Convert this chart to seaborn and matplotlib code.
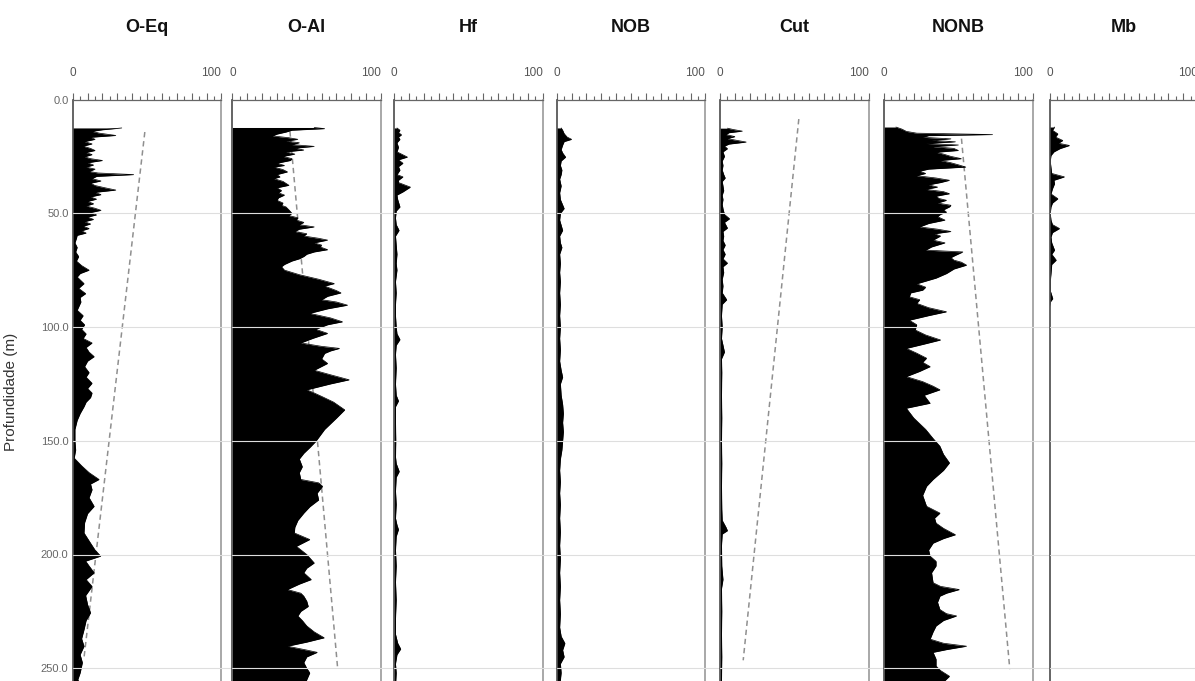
import matplotlib
matplotlib.use("Agg")
import matplotlib.pyplot as plt
from matplotlib.ticker import MultipleLocator
import seaborn as sns

# ---------------- data ----------------
panel_names = ["O-Eq", "O-Al", "Hf", "NOB", "Cut", "NONB", "Mb"]

oeq_depth = [12.5, 13.3, 14.0, 14.8, 15.8, 16.6, 17.5, 18.5, 19.5, 20.5, 21.5, 22.4, 23.3, 24.2, 25.2, 26.0,
             26.8, 27.8, 28.8, 29.7, 30.6, 31.6, 32.3, 33.0, 33.8, 34.8, 35.8, 36.8, 37.8, 38.7, 39.8, 40.8,
             41.8, 42.8, 43.8, 44.8, 45.8, 46.8, 47.8, 48.7, 49.7, 50.7, 51.7, 52.7, 53.7, 54.7, 55.7, 56.7,
             57.7, 58.7, 59.7, 61.0, 63.0, 65.0, 67.0, 69.0, 71.0, 73.0, 75.0, 76.5, 78.0, 80.9, 83.0, 85.3,
             87.0, 89.0, 92.6, 95.0, 97.0, 99.0, 101.0, 103.0, 105.0, 107.0, 109.0, 111.0, 113.0, 115.0, 117.4,
             120.0, 122.0, 124.7, 127.0, 129.0, 131.0, 133.0, 135.0, 138.0, 141.0, 145.0, 150.0, 154.0, 157.6,
             161.0, 164.0, 167.0, 169.0, 171.5, 175.0, 178.8, 182.0, 186.0, 190.5, 195.0, 198.0, 200.7, 202.9,
             205.0, 208.0, 211.0, 214.0, 218.0, 222.0, 225.6, 229.0, 233.0, 237.0, 240.3, 244.0, 247.5, 252.0,
             255.0, 258.0, 262.0, 265.0]
oeq_value = [33, 20, 13, 18, 29, 12, 15, 8, 13, 7, 12, 15, 9, 13, 8, 12,
             20, 10, 14, 9, 15, 11, 17, 41, 16, 13, 19, 12, 15, 21, 29, 15,
             19, 12, 16, 10, 14, 9, 15, 19, 12, 16, 10, 14, 8, 12, 7, 11,
             6, 9, 3, 2.5, 1.5, 3, 2, 4, 2.5, 6, 11, 5, 3, 7.6, 4, 8.7,
             5, 5.5, 3, 7, 5, 8, 6, 9, 7, 13, 9, 11, 14.4, 10, 8,
             11, 9, 13, 10, 13, 12, 9, 7.6, 5, 3, 1.5, 1.5, 2, 1,
             6, 11, 17.7, 12, 13, 11, 14.4, 10, 8, 7.6, 12, 15, 18.8, 8.7,
             11, 14.4, 9, 13, 8.7, 10, 12, 9, 7.6, 6, 7.6, 5, 6.5, 5,
             3.4, 6, 4, 5]

oal_depth = [12.3, 12.8, 13.5, 14.3, 15.2, 16.0, 16.8, 17.5, 18.3, 19.0, 19.8, 20.6, 21.4, 22.2, 23.0, 24.0,
             25.0, 26.0, 26.8, 28.0, 29.0, 29.7, 30.8, 31.8, 33.0, 34.0, 34.8, 36.0, 37.7, 38.8, 40.0, 41.0,
             42.0, 43.2, 44.3, 45.5, 46.5, 47.2, 48.5, 50.0, 51.0, 52.0, 53.0, 54.0, 55.0, 56.0, 57.0, 58.0,
             59.0, 60.0, 61.0, 61.8, 63.0, 64.0, 64.8, 66.0, 67.0, 68.0, 69.0, 70.0, 71.0, 72.5, 73.5, 75.0,
             77.0, 79.0, 80.9, 82.0, 83.0, 84.0, 85.0, 86.5, 88.0, 89.0, 90.4, 92.0, 94.0, 96.0, 97.7, 99.0,
             101.0, 102.8, 105.0, 107.0, 108.5, 109.4, 110.5, 111.6, 114.0, 116.0, 118.0, 119.0, 121.0, 123.2,
             125.0, 127.6, 129.0, 130.5, 133.0, 136.4, 140.0, 145.0, 150.3, 153.0, 155.5, 158.0, 161.4, 164.0,
             167.0, 168.5, 170.0, 173.0, 176.0, 179.0, 181.8, 185.0, 188.0, 190.5, 193.4, 196.4, 200.0, 203.7,
             206.0, 208.0, 211.0, 213.0, 215.4, 217.0, 218.3, 220.5, 222.8, 225.0, 227.0, 229.0, 231.4, 234.0,
             236.6, 238.5, 240.3, 242.0, 243.0, 245.0, 247.5, 250.0, 252.0, 255.0, 258.0, 262.0, 265.0]
oal_value = [55, 62, 40, 36, 30, 27, 38, 44, 36, 45, 40, 55, 42, 48, 36, 42,
             34, 40, 39, 30, 35, 28, 34, 37, 30, 32, 28, 34, 38, 30, 33, 31,
             35, 31, 30, 34, 33, 36, 38, 40, 38, 44, 43, 48, 45, 55, 45, 42,
             50, 48, 58, 64, 55, 60, 59, 64, 55, 50, 48, 45, 40, 35, 33, 35,
             45, 58, 68.5, 62, 66, 70, 73, 64, 60, 70, 77.4, 64, 52, 66, 74, 64,
             56, 64, 54, 46, 60, 72, 66, 62, 60, 64, 58, 55, 66, 78.5,
             66, 50, 55, 60, 68, 75.5, 70, 62, 56, 52, 48, 45, 47, 45,
             46, 58, 60.6, 57, 58, 52, 48, 44, 42, 41.6, 52, 43, 50, 55,
             50, 48, 53, 45, 37, 46, 48, 50, 51, 46, 44, 47, 50, 55,
             61.7, 50, 37, 50, 57, 50, 48, 50, 52, 50, 48, 50, 47]

hf_depth = [12.5, 13.5, 14.5, 15.5, 16.5, 17.5, 19.0, 21.0, 23.0, 25.3, 26.5, 28.0, 29.5, 31.0, 33.0, 34.0,
            35.5, 36.5, 38.5, 40.6, 42.0, 44.0, 47.2, 49.0, 52.0, 55.0, 57.5, 60.0, 64.0, 68.0, 72.0, 75.0,
            80.0, 85.0, 90.0, 95.0, 100.0, 103.0, 105.5, 108.0, 112.0, 118.0, 125.0, 130.0, 132.5, 135.0,
            142.0, 150.0, 157.0, 160.0, 163.5, 166.0, 172.0, 178.0, 184.0, 187.0, 189.0, 192.0, 198.0, 205.0,
            212.0, 220.0, 228.0, 235.0, 239.0, 241.5, 244.0, 248.0, 252.0, 258.0, 265.0]
hf_value = [2, 4, 3, 5, 3, 4, 2, 3, 2, 9, 3, 6, 3, 4, 2, 6,
            3, 3, 11, 6, 2, 2.5, 4, 1.5, 1, 1.5, 3.4, 1, 1.5, 2, 1.5, 2,
            1, 1.5, 1, 1, 1.5, 2, 4, 1.5, 1, 1.5, 1, 1.5, 3, 1,
            1, 1.2, 1, 1.5, 3.5, 1.5, 1, 1.5, 1, 2, 3, 1.5, 1, 1.5,
            1, 1.5, 1, 1, 2.5, 4.5, 2, 1, 1.5, 1, 1.5]

nob_depth = [12.5, 13.5, 15.0, 16.5, 17.5, 18.5, 20.0, 22.0, 23.5, 25.3, 27.0, 29.0, 31.0, 33.0, 35.0, 38.0,
             41.0, 44.0, 47.9, 50.0, 53.0, 57.5, 60.0, 63.0, 65.0, 68.0, 72.0, 76.0, 80.0, 85.0, 90.0, 95.0,
             100.0, 105.0, 110.0, 115.0, 119.0, 122.0, 125.0, 130.0, 134.0, 138.0, 142.0, 146.0, 150.0, 154.0,
             158.0, 163.0, 168.0, 173.0, 178.0, 184.0, 190.0, 196.0, 202.0, 208.0, 214.0, 220.0, 226.0, 232.0,
             236.0, 239.0, 242.0, 245.0, 248.0, 252.0, 258.0, 265.0]
nob_value = [3, 4, 5, 7, 10, 5, 4, 3, 4, 6, 3, 2.5, 3.5, 3, 2, 3,
             2, 2.5, 5, 2.5, 2, 4, 2, 2.5, 3.5, 2, 2.5, 2, 2.5, 2, 2.5, 2,
             2.5, 2, 2.5, 2, 3, 4, 2.5, 3, 4, 4.5, 4, 4.5, 4, 3.5,
             2.5, 2, 2.5, 2, 2.5, 2, 2.5, 2, 2.5, 2, 2.5, 2, 2.5, 2,
             3, 5.5, 4, 5, 2.5, 3, 2, 2.5]

cut_depth = [12.6, 13.2, 13.9, 14.6, 15.4, 16.3, 17.2, 18.7, 19.6, 20.5, 21.6, 23.0, 25.0, 27.0, 29.0, 31.0,
             33.0, 34.5, 36.0, 38.0, 40.0, 42.0, 44.0, 46.0, 48.0, 50.5, 52.4, 54.0, 56.5, 58.0, 60.0, 62.0,
             64.0, 66.0, 68.0, 70.0, 71.9, 73.5, 76.0, 79.0, 82.0, 85.0, 88.0, 90.0, 95.0, 100.0, 105.0, 111.0,
             114.0, 120.0, 130.0, 140.0, 150.0, 160.0, 170.0, 180.0, 185.0, 188.0, 189.5, 191.0, 196.0, 205.0,
             211.0, 215.0, 225.0, 235.0, 245.0, 255.0, 265.0]
cut_value = [5, 9, 15, 6, 4, 10, 5, 17.6, 6, 3, 5, 2, 3, 1.5, 2, 1.5,
             2.5, 3.5, 1.5, 2, 2.5, 1.5, 2, 1.5, 2, 3, 6.4, 3, 5, 2, 2.5, 2,
             3.5, 2, 3.5, 2, 5, 2, 2.5, 1.5, 2, 1.5, 4.5, 1.5, 1, 1.5, 1, 3,
             1, 1.2, 1, 1.2, 1, 1.2, 1, 1.2, 1.5, 4, 5, 1.5, 1, 1.2,
             2, 1, 1.2, 1, 1.2, 1, 1]

nonb_depth = [12.1, 13.0, 14.0, 14.8, 15.4, 15.9, 16.6, 17.3, 17.9, 18.6, 19.3, 20.0, 20.7, 21.5, 22.4, 23.2,
              24.0, 25.0, 26.0, 26.8, 27.8, 28.7, 29.7, 30.6, 31.5, 32.5, 33.5, 34.5, 35.5, 36.5, 37.5, 38.5,
              39.5, 40.5, 41.4, 42.5, 43.5, 44.3, 45.5, 46.5, 47.2, 48.5, 49.5, 50.5, 51.5, 53.0, 54.5, 56.0,
              57.0, 58.0, 59.0, 60.0, 61.8, 63.0, 64.8, 66.2, 67.0, 68.5, 69.5, 70.6, 71.5, 72.8, 74.5, 76.5,
              78.5, 81.0, 82.5, 83.8, 85.0, 86.7, 88.0, 89.6, 91.5, 93.3, 95.0, 97.0, 99.0, 101.3, 103.5, 105.7,
              107.5, 109.4, 111.5, 113.7, 115.5, 117.4, 119.5, 121.8, 124.0, 126.0, 127.6, 130.0, 133.5, 135.7,
              140.0, 145.0, 149.0, 152.4, 156.0, 159.7, 163.0, 167.0, 170.0, 174.0, 178.8, 181.8, 184.0, 186.2,
              188.5, 191.3, 193.0, 195.0, 198.0, 200.7, 203.0, 205.0, 208.0, 212.4, 214.0, 215.4, 217.0, 218.3,
              221.0, 224.2, 226.0, 227.0, 229.0, 231.4, 234.0, 237.2, 239.0, 240.3, 241.8, 243.0, 246.0, 249.0,
              251.0, 253.5, 256.0, 260.0, 265.0]
nonb_value = [8, 12, 15, 22, 73, 30, 26, 45, 32, 48, 28, 50, 33, 47, 50, 35,
              40, 45, 52, 38, 45, 50, 55, 30, 24, 28, 22, 35, 44, 38, 30, 36,
              28, 40, 44, 35, 37, 42, 36, 45, 44, 40, 42, 38, 36, 41, 30, 24,
              36, 45, 34, 38, 33, 41, 32, 28, 53, 48, 45, 47, 52, 55.5, 47, 42,
              35, 22, 28, 26, 18, 17, 24, 22, 30, 42, 30, 17, 22, 21, 28, 38,
              27, 15, 22, 28.6, 26, 31, 24, 15, 26, 33, 37.6, 27, 31, 15,
              20, 28, 33, 37.6, 40, 44, 40, 33, 28.6, 26, 28.6, 37.6, 34, 35,
              40, 48, 40, 33, 30, 31, 35, 35, 32, 33, 38, 50.6, 42, 37.6,
              36, 37.6, 42, 48.8, 40, 35, 33, 31, 40, 55.5, 42, 33, 35, 35,
              38, 44, 40, 38, 36]

mb_depth = [12.1, 13.5, 15.1, 16.5, 18.0, 19.2, 20.2, 21.6, 23.0, 24.6, 27.0, 30.0, 32.5, 34.0, 35.5, 37.0,
            39.2, 41.5, 43.6, 45.5, 47.2, 50.0, 53.0, 55.0, 56.7, 58.5, 60.4, 63.0, 66.2, 68.0, 70.6, 72.5,
            76.5, 80.0, 84.0, 87.5, 89.0, 91.0, 265.0]
mb_value = [3.4, 2, 5.6, 4, 8.9, 6, 13.4, 7, 3, 1, 0.5, 1, 1.5, 10, 3, 3.4,
            2, 1, 5.6, 2, 1, 0.5, 1, 2, 6.7, 2, 1, 1.5, 3.4, 1.5, 4.5, 1.5,
            1, 0.5, 0.5, 2.2, 0.5, 0, 0]

# dashed trend lines (start/end depth and value) for the panels that have one
oeq_trend_depth = [14.3, 246.0]
oeq_trend_value = [48.5, 7.5]
oal_trend_depth = [14.0, 249.5]
oal_trend_value = [38.7, 70.7]
cut_trend_depth = [8.6, 246.5]
cut_trend_value = [53.0, 15.6]
nonb_trend_depth = [17.2, 250.4]
nonb_trend_value = [52.1, 84.6]

depth_ticks = [0, 50, 100, 150, 200, 250]
depth_tick_labels = ["0.0", "50.0", "100.0", "150.0", "200.0", "250.0"]
x_tick_labels = ["0", "100"]
y_label = "Profundidade (m)"

series = {
    "O-Eq": (oeq_depth, oeq_value, oeq_trend_depth, oeq_trend_value),
    "O-Al": (oal_depth, oal_value, oal_trend_depth, oal_trend_value),
    "Hf": (hf_depth, hf_value, None, None),
    "NOB": (nob_depth, nob_value, None, None),
    "Cut": (cut_depth, cut_value, cut_trend_depth, cut_trend_value),
    "NONB": (nonb_depth, nonb_value, nonb_trend_depth, nonb_trend_value),
    "Mb": (mb_depth, mb_value, None, None),
}

# ---------------- style / layout ----------------
sns.set_theme(style="white")
plt.rcParams["font.family"] = ["Liberation Sans", "DejaVu Sans"]

W, H = 1195, 681
fig = plt.figure(figsize=(W / 100, H / 100), dpi=100)
fig.patch.set_facecolor("white")

lefts_px = [72.7, 232.4, 394.0, 556.7, 720.0, 884.0, 1049.5]
width_px = 148.7
top_px = 99.5
px_per_m = 2.275
depth_max = 265.0
height_px = depth_max * px_per_m
bottom_px = top_px + height_px

for i, name in enumerate(panel_names):
    d, v, td, tv = series[name]
    ax = fig.add_axes([lefts_px[i] / W, (H - bottom_px) / H, width_px / W, height_px / H])
    ax.set_facecolor("white")

    ax.fill_betweenx(d, 0, v, color="black", lw=0, zorder=2)
    sns.lineplot(x=v, y=d, orient="y", sort=False, estimator=None, color="black",
                 lw=0.5, ax=ax, zorder=2.1)
    if td is not None:
        sns.lineplot(x=tv, y=td, orient="y", sort=False, estimator=None, color="#8f8f8f",
                     lw=1.1, linestyle=(0, (3.5, 2.5)), ax=ax, zorder=1.5)

    # gridlines drawn over the fill, extending into the gap to the next panel
    if i < len(panel_names) - 1:
        xmax = (lefts_px[i + 1] - lefts_px[i]) / width_px
    else:
        xmax = 1.0
    for dt in depth_ticks[1:]:
        ax.axhline(dt, xmin=0, xmax=xmax, color="#dedede", lw=0.8, zorder=3, clip_on=False)

    ax.set_xlim(0, 100)
    ax.set_ylim(depth_max, 0)
    ax.set_xlabel("")
    ax.set_ylabel("")

    ax.xaxis.tick_top()
    ax.xaxis.set_minor_locator(MultipleLocator(5))
    major = list(range(0, 101, 10))
    ax.set_xticks(major, labels=[x_tick_labels[0]] + [""] * 9 + [x_tick_labels[1]])
    ax.tick_params(axis="x", which="major", direction="out", length=5, width=0.8,
                   color="#666666", labelsize=8.5, labelcolor="#555555", pad=10,
                   top=True, bottom=False, labeltop=True, labelbottom=False)
    ax.tick_params(axis="x", which="minor", direction="out", length=2.8, width=0.8,
                   color="#666666", top=True, bottom=False)
    for lab in ax.get_xticklabels():
        if lab.get_text() == x_tick_labels[1]:
            lab.set_horizontalalignment("right")

    ax.set_yticks(depth_ticks)
    if i == 0:
        ax.set_yticklabels(depth_tick_labels)
        ax.tick_params(axis="y", length=0, pad=3, labelsize=8, labelcolor="#666666")
    else:
        ax.tick_params(axis="y", length=0, labelleft=False)

    for s in ["left", "right", "top", "bottom"]:
        ax.spines[s].set_visible(True)
    ax.spines["left"].set_color("#4a4a4a")
    ax.spines["left"].set_linewidth(1.2)
    ax.spines["right"].set_color("#9a9a9a")
    ax.spines["right"].set_linewidth(1.2)
    ax.spines["top"].set_color("#666666")
    ax.spines["top"].set_linewidth(0.9)
    ax.spines["bottom"].set_color("#9a9a9a")

    ax.text(0.5, 1 + 71.5 / height_px, name, transform=ax.transAxes, ha="center",
            va="center", fontsize=13, fontweight="bold", color="#111111")

    if i == 0:
        ax.set_ylabel(y_label, fontsize=11, color="#333333")
        ax.yaxis.set_label_coords((18 - lefts_px[0]) / width_px, (bottom_px - 392) / height_px)

fig.savefig("out.png", dpi=100, facecolor="white")
